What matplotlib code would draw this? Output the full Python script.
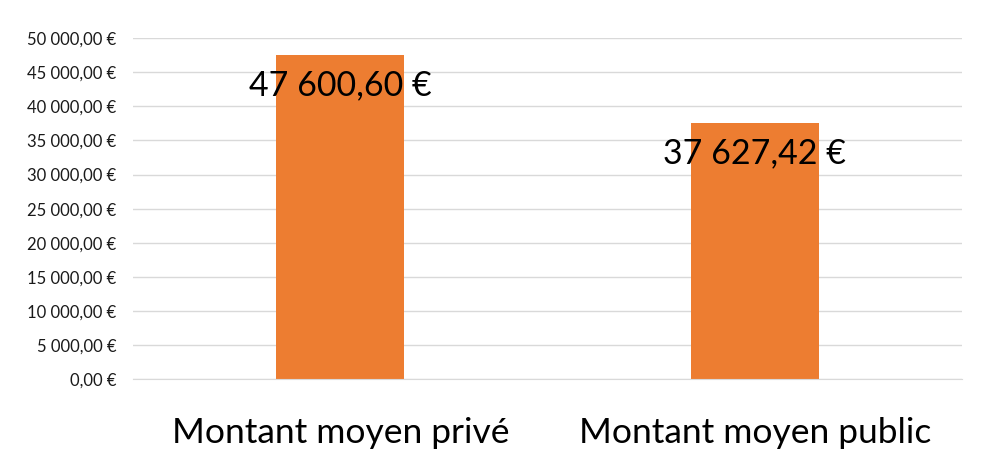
# Montant moyen privé / public - bar chart style Excel

import matplotlib
matplotlib.use("Agg")
import matplotlib.pyplot as plt
from matplotlib.ticker import FuncFormatter

plt.rcParams['font.family'] = ['Lato', 'DejaVu Sans']

# données
categories = ["Montant moyen privé", "Montant moyen public"]
values = [47600.60, 37627.42]
y_ticks = list(range(0, 50001, 5000))

bar_color = '#ED7D31'
grid_color = '#D9D9D9'


def fmt_euro(v, pos=None):
    # 47600.6 -> "47 600,60 €"
    s = f"{v:,.2f}".replace(",", " ").replace(".", ",")
    return s + " €"


fig = plt.figure(figsize=(10, 4.71), dpi=100)
ax = fig.add_axes([0.133, 0.195, 0.829, 0.724])

x = range(len(categories))
bars = ax.bar(x, values, width=0.31, color=bar_color, zorder=2)

# étiquettes de valeur (dans le haut des barres)
for b, v in zip(bars, values):
    ax.annotate(fmt_euro(v), xy=(b.get_x() + b.get_width() / 2, v),
                xytext=(0, -22), textcoords='offset points',
                ha='center', va='center', fontsize=24.5, color='black', zorder=3)

ax.set_xlim(-0.5, len(categories) - 0.5)
ax.set_ylim(0, 50000)
ax.set_yticks(y_ticks)
ax.yaxis.set_major_formatter(FuncFormatter(fmt_euro))
ax.set_xticks(list(x))
ax.set_xticklabels(categories, fontsize=25.5)

ax.grid(axis='y', color=grid_color, linewidth=1, zorder=0)
for side in ['top', 'right', 'left']:
    ax.spines[side].set_visible(False)
ax.spines['bottom'].set_color(grid_color)
ax.tick_params(axis='y', length=0, pad=12, labelsize=12, labelcolor='#1a1a1a')
ax.tick_params(axis='x', length=0, pad=27)

fig.savefig("out.png", dpi=100)
